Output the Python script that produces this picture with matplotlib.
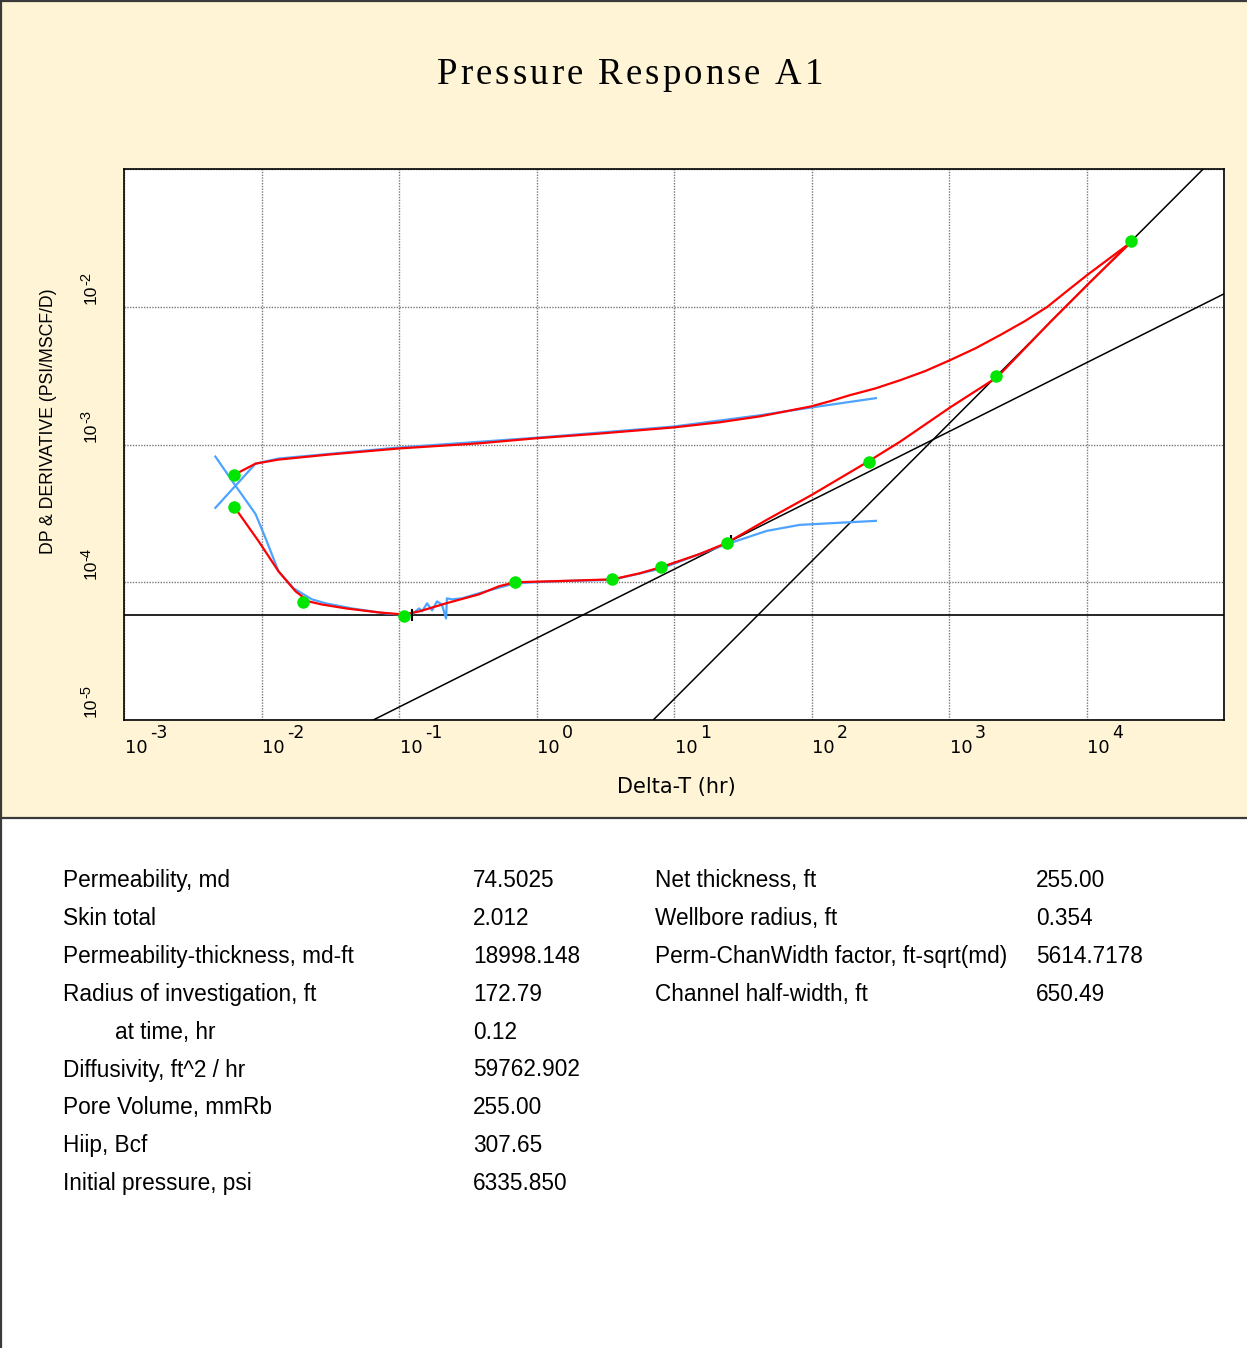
import matplotlib
matplotlib.use("Agg")
import matplotlib.pyplot as plt
from matplotlib import font_manager
from matplotlib.font_manager import FontProperties
from matplotlib.patches import Rectangle
from matplotlib.lines import Line2D

# --- values ---
# model pressure change (red, upper)
t_dp_model = [6.35e-3, 9.05e-3, 1.33e-2, 3.08e-2, 0.1, 0.382, 1.0, 2.86, 9.93, 21.5,
              42.1, 99.1, 136, 190, 290, 442, 670, 1020, 1550, 2370, 3590, 5200, 7280,
              10200, 15000, 21000]
dp_model = [6.04e-4, 7.26e-4, 7.77e-4, 8.45e-4, 9.36e-4, 1.02e-3, 1.11e-3, 1.20e-3, 1.33e-3,
            1.45e-3, 1.60e-3, 1.89e-3, 2.06e-3, 2.28e-3, 2.55e-3, 2.93e-3, 3.41e-3, 4.10e-3,
            4.98e-3, 6.25e-3, 7.90e-3, 1.0e-2, 1.31e-2, 1.71e-2, 2.28e-2, 2.93e-2]

# measured pressure change (blue, upper)
t_dp_meas = [4.62e-3, 9.05e-3, 1.33e-2, 0.1, 1.0, 9.93, 42.1, 101, 294]
dp_meas = [3.47e-4, 7.26e-4, 7.91e-4, 9.51e-4, 1.12e-3, 1.35e-3, 1.63e-3, 1.86e-3, 2.17e-3]

# model derivative (red, lower)
t_der_model = [6.35e-3, 9.51e-3, 1.33e-2, 1.77e-2, 2.20e-2, 2.74e-2, 4.10e-2, 7.13e-2, 0.108,
               0.140, 0.220, 0.382, 0.535, 0.700, 1.46, 3.56, 5.61, 8.11, 15.3, 24.2, 47.3,
               101, 258, 442, 1020, 2240, 5470, 10700, 21000]
der_model = [3.52e-4, 1.99e-4, 1.20e-4, 8.59e-5, 7.26e-5, 6.90e-5, 6.46e-5, 6.04e-5, 5.83e-5,
             6.14e-5, 7.03e-5, 8.17e-5, 9.36e-5, 1.00e-4, 1.02e-4, 1.05e-4, 1.16e-4, 1.29e-4,
             1.60e-4, 1.93e-4, 2.84e-4, 4.32e-4, 7.52e-4, 1.05e-3, 1.86e-3, 3.08e-3, 7.78e-3,
             1.52e-2, 2.93e-2]

# measured derivative (blue, lower)
t_der_meas = [4.62e-3, 6.47e-3, 9.05e-3, 1.07e-2, 1.33e-2, 1.71e-2, 2.32e-2, 2.93e-2, 4.53e-2,
              8.02e-2, 0.100, 0.124, 0.140, 0.147, 0.160, 0.174, 0.189, 0.205, 0.220, 0.223,
              0.243, 0.287, 0.382, 0.700, 1.46, 3.56, 8.11, 15.3, 24.2, 47.3, 82.2, 294]
der_meas = [8.17e-4, 5.02e-4, 3.13e-4, 2.09e-4, 1.20e-4, 9.04e-5, 7.52e-5, 7.03e-5, 6.46e-5,
            5.94e-5, 5.83e-5, 5.83e-5, 6.46e-5, 6.14e-5, 7.03e-5, 6.25e-5, 7.26e-5, 6.90e-5,
            5.46e-5, 7.64e-5, 7.52e-5, 7.64e-5, 8.32e-5, 9.84e-5, 1.02e-4, 1.04e-4, 1.26e-4,
            1.60e-4, 1.89e-4, 2.36e-4, 2.61e-4, 2.79e-4]

# green regression points
t_pts = [6.35e-3, 6.35e-3, 1.99e-2, 0.108, 0.700, 3.56, 8.11, 24.2, 262, 2210, 21000]
y_pts = [6.04e-4, 3.52e-4, 7.14e-5, 5.65e-5, 1.00e-4, 1.05e-4, 1.29e-4, 1.93e-4, 7.52e-4,
         3.13e-3, 2.98e-2]

# straight-line flow regimes: (anchor t, anchor y, slope)
radial_level = 5.83e-5
half_slope = (24.2, 1.93e-4, 0.5)
unit_slope = (2210, 3.13e-3, 1.0)
t_marks = [0.124, 25.8]
y_marks = [5.83e-5, 2.0e-4]

x_decades = [-3, -2, -1, 0, 1, 2, 3, 4]
y_decades = [-5, -4, -3, -2]

title = "Pressure Response A1"
left_labels = ["Permeability, md", "Skin total", "Permeability-thickness, md-ft",
               "Radius of investigation, ft", "at time, hr", "Diffusivity, ft^2 / hr",
               "Pore Volume, mmRb", "Hiip, Bcf", "Initial pressure, psi"]
left_values = ["74.5025", "2.012", "18998.148", "172.79", "0.12", "59762.902",
               "255.00", "307.65", "6335.850"]
left_indent = [0, 0, 0, 0, 1, 0, 0, 0, 0]
right_labels = ["Net thickness, ft", "Wellbore radius, ft",
                "Perm-ChanWidth factor, ft-sqrt(md)", "Channel half-width, ft"]
right_values = ["255.00", "0.354", "5614.7178", "650.49"]

W, H = 1247, 1348
CREAM = "#FFF5D6"


def fx(px):
    return px / W


def fy(py):
    return 1 - py / H


def have_font(name):
    try:
        font_manager.findfont(FontProperties(family=name), fallback_to_default=False)
        return True
    except ValueError:
        return False


narrow = have_font("Liberation Sans Narrow")

fig = plt.figure(figsize=(W / 100, H / 100), dpi=100)
fig.patch.set_facecolor("white")

# cream top panel and frame lines
fig.add_artist(Rectangle((0, fy(818)), 1, 1 - fy(818), transform=fig.transFigure,
                         facecolor=CREAM, edgecolor="none", zorder=0))
for xs, ys in [([0, 1], [fy(818), fy(818)]), ([fx(1), fx(1)], [0, 1]), ([0, 1], [fy(1), fy(1)])]:
    fig.add_artist(Line2D(xs, ys, transform=fig.transFigure, color="#3a3a3a", lw=1.6, zorder=1))

ax = fig.add_axes([fx(124), fy(720), fx(1224) - fx(124), fy(169) - fy(720)])
ax.set_facecolor("white")
ax.set_xscale("log")
ax.set_yscale("log")
ax.set_xlim(1e-3, 1e5)
ax.set_ylim(1e-5, 1e-1)
ax.set_xticks([10.0 ** e for e in range(-3, 6)])
ax.set_yticks([10.0 ** e for e in range(-5, 0)])
ax.minorticks_off()
ax.tick_params(length=0, labelbottom=False, labelleft=False)
ax.grid(True, which="major", color="#7a7a7a", lw=1.0, ls=(0, (1, 1)))
for s in ax.spines.values():
    s.set_linewidth(1.2)
    s.set_color("black")

# flow regime lines
x0, x1 = ax.get_xlim()
ax.axhline(radial_level, color="black", lw=1.2, zorder=2)
for ta, ya, m in (half_slope, unit_slope):
    ax.plot([x0, x1], [ya * (x0 / ta) ** m, ya * (x1 / ta) ** m], color="black", lw=1.1, zorder=2)

ax.plot(t_dp_meas, dp_meas, color="#4DA3FF", lw=1.6, zorder=3)
ax.plot(t_der_meas, der_meas, color="#4DA3FF", lw=1.6, zorder=3)
ax.plot(t_dp_model, dp_model, color="#FF0000", lw=1.6, zorder=4)
ax.plot(t_der_model, der_model, color="#FF0000", lw=1.6, zorder=4)
ax.plot(t_marks, y_marks, ls="none", marker="|", ms=9, mew=1.5, color="black", zorder=5)
ax.plot(t_pts, y_pts, ls="none", marker="o", ms=9, color="#00E600", mec="none", zorder=6)

# axis tick labels drawn as base + exponent
for e in x_decades:
    ax.annotate("10", xy=(10.0 ** e, 0), xycoords=ax.get_xaxis_transform(),
                xytext=(0.7, -20), textcoords="offset points", ha="left", va="center",
                fontsize=13, family="DejaVu Sans", annotation_clip=False)
    ax.annotate(str(e), xy=(10.0 ** e, 0), xycoords=ax.get_xaxis_transform(),
                xytext=(18.5, -9.7), textcoords="offset points", ha="left", va="center",
                fontsize=12.5, family="DejaVu Sans", annotation_clip=False)
for e in y_decades:
    ax.annotate("10", xy=(0, 10.0 ** e), xycoords=ax.get_yaxis_transform(),
                xytext=(-24, 2), textcoords="offset points", ha="center", va="bottom",
                rotation=90, fontsize=12.5, family="Liberation Sans", annotation_clip=False)
    ax.annotate(str(e), xy=(0, 10.0 ** e), xycoords=ax.get_yaxis_transform(),
                xytext=(-27, 15.5), textcoords="offset points", ha="center", va="bottom",
                rotation=90, fontsize=10.5, family="Liberation Sans", annotation_clip=False)

# title with letter spacing, spread over the reference's span
renderer = fig.canvas.get_renderer()
tprop = FontProperties(family="Liberation Serif", size=26.5)
pair = renderer.get_text_width_height_descent("aa", tprop, ismath=False)[0]
spaced = renderer.get_text_width_height_descent("a a", tprop, ismath=False)[0]
widths = []
for ch in title:
    widths.append(spaced - pair if ch == " " else
                  renderer.get_text_width_height_descent(ch, tprop, ismath=False)[0])
track = (823 - 437 - sum(widths)) / (len(title) - 1)
xpos = 437
for ch, w in zip(title, widths):
    if ch != " ":
        fig.text(fx(xpos), fy(84), ch, ha="left", va="baseline", fontproperties=tprop)
    xpos += w + track

fig.text(fx(676), fy(787), "Delta-T (hr)", ha="center", va="center",
         fontsize=15, family="DejaVu Sans")
if narrow:
    fig.text(fx(49), fy(421), "DP & DERIVATIVE (PSI/MSCF/D)", rotation=90, ha="center",
             va="center", fontsize=15, family="Liberation Sans Narrow")
else:
    fig.text(fx(49), fy(421), "DP & DERIVATIVE (PSI/MSCF/D)", rotation=90, ha="center",
             va="center", fontsize=12.7, family="Liberation Sans")

# results table
row0, step = 887, 37.9
for i, (lab, val) in enumerate(zip(left_labels, left_values)):
    y = fy(row0 + i * step)
    fig.text(fx(115 if left_indent[i] else 63), y, lab, va="baseline", fontsize=16.3,
             family="Liberation Sans")
    fig.text(fx(473), y, val, va="baseline", fontsize=16.3, family="Liberation Sans")
for i, (lab, val) in enumerate(zip(right_labels, right_values)):
    y = fy(row0 + i * step)
    fig.text(fx(655), y, lab, va="baseline", fontsize=16.3, family="Liberation Sans")
    fig.text(fx(1036), y, val, va="baseline", fontsize=16.3, family="Liberation Sans")

fig.savefig("out.png", dpi=100)
